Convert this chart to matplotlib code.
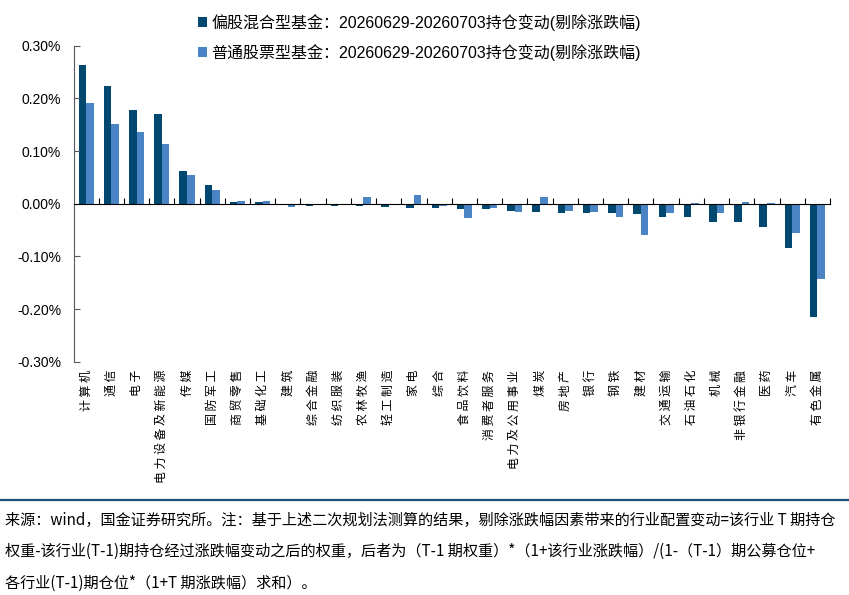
import numpy as np
import matplotlib.pyplot as plt
import matplotlib.transforms as mtransforms
from matplotlib.lines import Line2D
from matplotlib.ticker import FuncFormatter

plt.rcParams['font.family'] = ['Liberation Sans', 'Noto Sans CJK SC']

# 行业
industries = ['计算机', '通信', '电子', '电力设备及新能源', '传媒', '国防军工', '商贸零售',
              '基础化工', '建筑', '综合金融', '纺织服装', '农林牧渔', '轻工制造', '家电',
              '综合', '食品饮料', '消费者服务', '电力及公用事业', '煤炭', '房地产', '银行',
              '钢铁', '建材', '交通运输', '石油石化', '机械', '非银行金融', '医药', '汽车',
              '有色金属']

# 持仓变动 (%)
mixed = [0.263, 0.223, 0.177, 0.170, 0.062, 0.035, 0.004, 0.003, -0.003, -0.004,
         -0.004, -0.005, -0.007, -0.008, -0.009, -0.010, -0.010, -0.013, -0.016, -0.017,
         -0.017, -0.017, -0.020, -0.025, -0.025, -0.034, -0.034, -0.044, -0.084, -0.216]
stock = [0.192, 0.152, 0.136, 0.114, 0.055, 0.026, 0.006, 0.006, -0.006, -0.003,
         -0.002, 0.012, -0.003, 0.016, -0.004, -0.028, -0.009, -0.016, 0.012, -0.013,
         -0.016, -0.026, -0.060, -0.017, 0.002, -0.017, 0.003, 0.001, -0.056, -0.1435]

legend_labels = ['偏股混合型基金：20260629-20260703持仓变动(剔除涨跌幅)',
                 '普通股票型基金：20260629-20260703持仓变动(剔除涨跌幅)']

footer = ['来源：wind，国金证券研究所。注：基于上述二次规划法测算的结果，剔除涨跌幅因素带来的行业配置变动=该行业 T 期持仓',
          '权重-该行业(T-1)期持仓经过涨跌幅变动之后的权重，后者为（T-1 期权重）*（1+该行业涨跌幅）/(1-（T-1）期公募仓位+',
          '各行业(T-1)期仓位*（1+T 期涨跌幅）求和）。']

c_dark = '#00486F'
c_light = '#4A84C4'

fig = plt.figure(figsize=(8.49, 5.95), dpi=100)
ax = fig.add_axes([0.0866, 0.3921, 0.9776 - 0.0866, 0.9232 - 0.3921])

x = np.arange(len(industries))
w = 0.3
b1 = ax.bar(x - w / 2, mixed, w, color=c_dark, label=legend_labels[0])
b2 = ax.bar(x + w / 2, stock, w, color=c_light, label=legend_labels[1])

ax.set_xlim(-0.5, len(industries) - 0.5)
ax.set_ylim(-0.3, 0.3)
ax.set_yticks(np.arange(-0.3, 0.31, 0.1))
ax.yaxis.set_major_formatter(FuncFormatter(lambda v, p: f'{v:.2f}%'))
ax.tick_params(axis='y', direction='in', length=4, pad=9, labelsize=10, color='#595959')

ax.spines['top'].set_visible(False)
ax.spines['right'].set_visible(False)
ax.spines['left'].set_color('#595959')
ax.spines['bottom'].set_position(('data', 0))
ax.spines['bottom'].set_color('black')
ax.set_xticks(np.arange(0.5, len(industries), 1))
ax.tick_params(axis='x', direction='in', length=4, labelbottom=False, color='black')

# 行业名称：逆时针旋转 90°，字间留空
trans = mtransforms.blended_transform_factory(ax.transData, ax.transAxes)
for i, name in enumerate(industries):
    ax.text(i, -0.026, ' '.join(name), transform=trans, ha='center', va='top', rotation=90,
            fontsize=8.6, family='Noto Sans CJK SC')

fig.legend(handles=[b1, b2], loc='upper left', bbox_to_anchor=(198 / 849, 1 - 14 / 595),
           frameon=False, fontsize=11.5, handlelength=0.55, handleheight=0.55,
           handletextpad=0.3, labelspacing=0.8, borderpad=0, borderaxespad=0)

fig.add_artist(Line2D([0, 1], [1 - 500 / 595] * 2, color='#1F4E79', lw=1.6))
for k, line in enumerate(footer):
    fig.text(5 / 849, 1 - (520 + 31.5 * k) / 595, line, ha='left', va='center',
             fontsize=10.9, family='Noto Sans CJK SC')

plt.savefig('out.png', dpi=100)
